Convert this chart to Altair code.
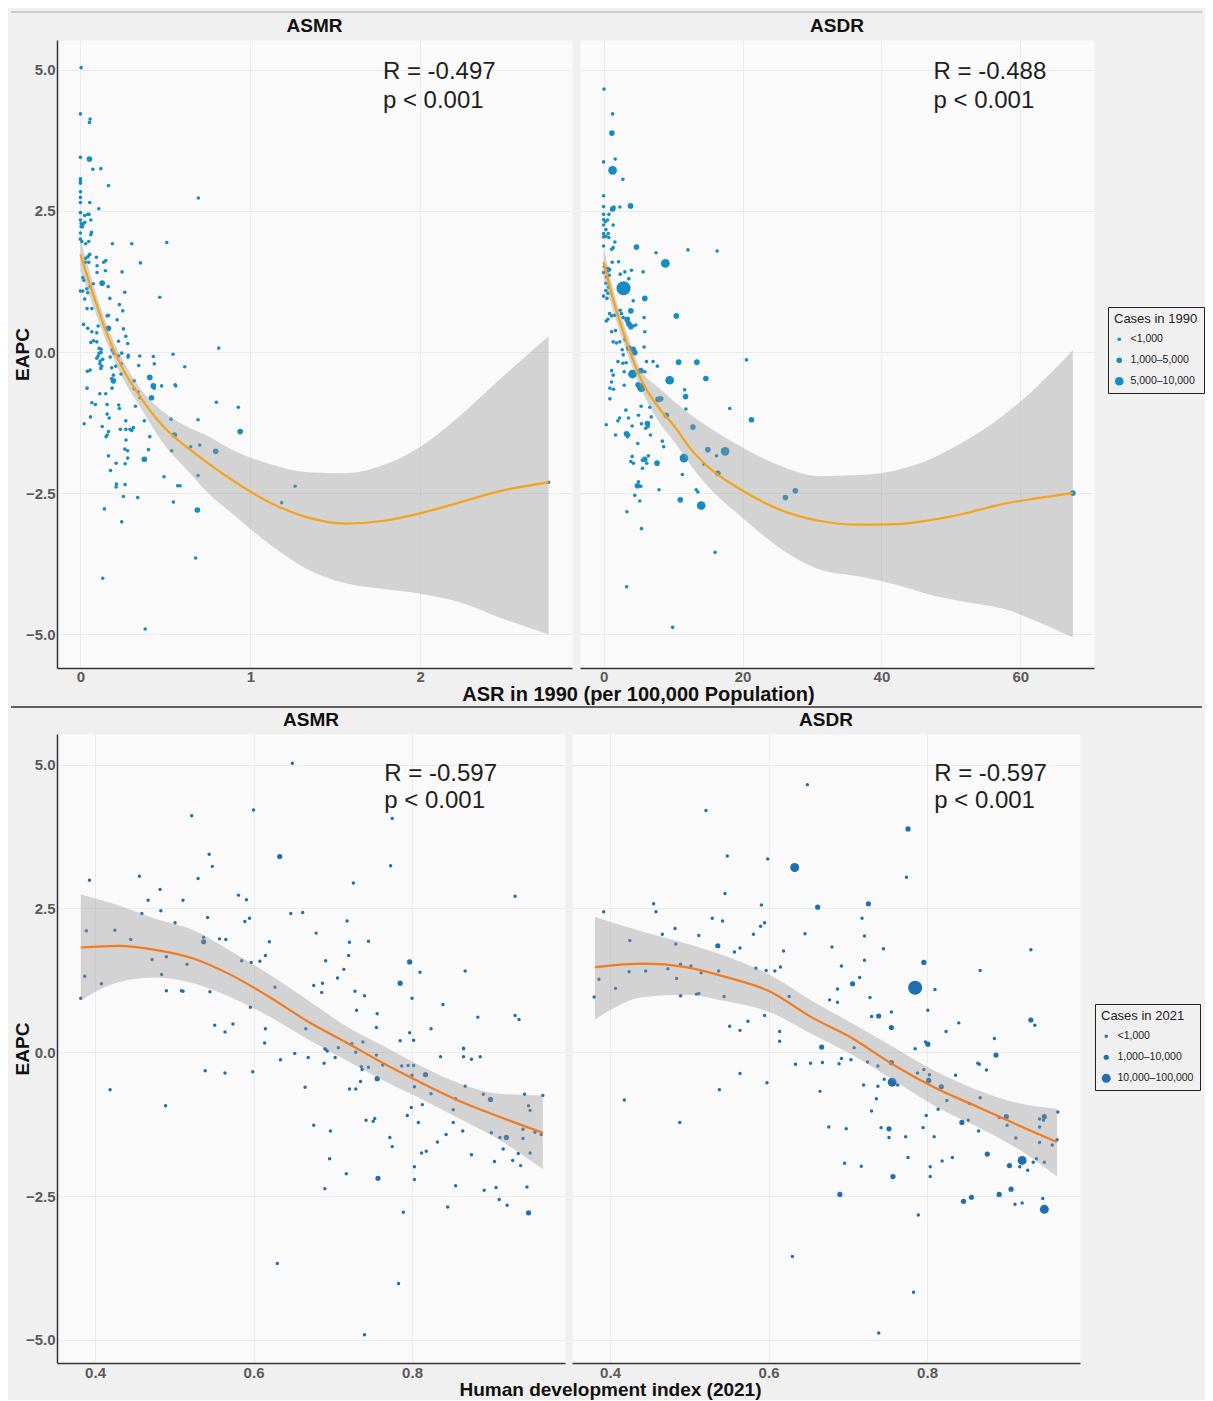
import altair as alt
import pandas as pd

FONT = "Liberation Sans"

# ---------------- data ----------------
CATS_1990 = ["<1,000", "1,000–5,000", "5,000–10,000", ">10,000"]
CATS_2021 = ["<1,000", "1,000–10,000", "10,000–100,000", ">100,000"]

# (ASR in 1990, EAPC, case-bin index)
ASMR_1990 = [
 (0.004,5.04,0),(0.0,4.22,0),(0.057,4.13,0),(0.053,4.07,0),(0.0,3.45,0),(0.053,3.42,1),
 (0.073,3.24,0),(0.12,3.25,0),(0.0,3.07,0),(0.0,3.03,0),(0.0,2.99,0),(0.165,2.95,0),
 (0.0,2.84,0),(0.0,2.74,0),(0.0,2.65,0),(0.055,2.65,0),(0.108,2.54,0),(0.694,2.73,0),
 (0.0,2.47,0),(0.025,2.42,0),(0.043,2.44,0),(0.051,2.44,0),(0.0,2.34,0),(0.061,2.34,0),
 (0.004,2.28,0),(0.016,2.27,0),(0.026,2.30,0),(0.004,2.22,0),(0.012,2.22,0),(0.0,2.11,0),
 (0.065,2.12,0),(0.061,2.08,0),(0.0,2.00,0),(0.008,1.96,0),(0.031,1.92,0),(0.049,1.96,0),
 (0.188,1.92,0),(0.302,1.92,0),(0.508,1.94,0),(0.055,1.73,0),(0.031,1.66,0),(0.045,1.69,0),
 (0.094,1.68,0),(0.029,1.59,0),(0.049,1.59,0),(0.098,1.53,0),(0.137,1.59,0),(0.149,1.62,0),
 (0.353,1.58,0),(0.098,1.41,0),(0.147,1.44,0),(0.245,1.42,0),(0.014,1.32,0),(0.020,1.27,0),
 (0.128,1.22,1),(0.076,1.21,0),(0.057,1.16,0),(0.0,1.08,0),(0.014,1.08,0),(0.037,1.12,0),
 (0.043,1.05,0),(0.163,1.16,0),(0.261,1.06,0),(0.467,0.97,0),(0.025,0.94,0),(0.173,0.95,0),
 (0.229,0.84,0),(0.039,0.77,0),(0.067,0.77,0),(0.249,0.73,0),
 (0.157,0.64,0),(0.165,0.65,0),(0.216,0.57,0),(0.018,0.49,0),(0.043,0.42,0),(0.067,0.36,0),
 (0.096,0.34,0),(0.104,0.46,0),(0.253,0.41,0),(0.165,0.42,1),(0.267,0.28,0),(0.061,0.17,0),
 (0.077,0.20,0),(0.096,0.18,0),(0.224,0.19,0),(0.278,0.15,0),(0.110,0.065,0),(0.122,0.05,0),
 (0.110,-0.02,0),(0.122,-0.01,0),(0.104,-0.07,0),(0.186,0.035,0),(0.198,-0.02,0),(0.243,-0.02,0),
 (0.096,-0.11,0),(0.116,-0.16,0),(0.131,-0.13,0),(0.175,-0.09,0),(0.224,-0.07,0),(0.280,-0.09,0),
 (0.282,-0.06,0),(0.349,-0.07,0),(0.429,-0.08,0),(0.545,-0.04,0),(0.114,-0.21,0),(0.125,-0.25,0),
 (0.120,-0.29,0),(0.184,-0.28,0),(0.208,-0.25,0),(0.240,-0.21,0),(0.343,-0.24,0),(0.435,-0.21,0),
 (0.614,-0.26,0),(0.041,-0.34,0),(0.057,-0.32,0),(0.194,-0.41,0),(0.184,-0.47,0),(0.194,-0.51,1),
 (0.239,-0.39,0),(0.316,-0.51,0),(0.408,-0.45,1),(0.429,-0.60,1),(0.433,-0.64,0),(0.478,-0.60,0),
 (0.561,-0.60,0),(0.039,-0.64,0),(0.186,-0.64,0),(0.316,-0.65,0),(0.339,-0.71,0),(0.351,-0.81,0),
 (0.418,-0.81,1),(0.114,-0.74,0),(0.149,-0.74,0),(0.067,-0.90,0),(0.088,-0.93,0),(0.157,-0.93,0),
 (0.225,-0.94,0),(0.229,-1.00,0),(0.324,-0.96,0),(0.059,-1.15,0),(0.157,-1.10,0),(0.169,-1.17,0),
 (0.376,-1.22,0),(0.533,-1.19,0),(0.692,-1.20,0),(0.022,-1.27,0),(0.128,-1.32,0),(0.267,-1.22,0),
 (0.267,-1.37,0),(0.292,-1.37,0),(0.312,-1.34,0),(0.302,-1.39,0),(0.235,-1.37,0),(0.165,-1.41,0),
 (0.157,-1.47,0),(0.151,-1.50,0),(0.268,-1.56,0),(0.408,-1.50,0),(0.553,-1.47,1),(0.649,-1.68,0),
 (0.702,-1.65,0),(0.261,-1.72,0),(0.278,-1.75,0),(0.400,-1.73,0),(0.537,-1.75,0),(0.165,-1.84,0),
 (0.278,-1.88,0),(0.263,-1.98,0),(0.210,-1.97,0),(0.376,-1.90,1),(0.177,-2.10,0),(0.492,-2.21,0),
 (0.692,-2.19,0),(0.212,-2.34,0),(0.210,-2.39,0),(0.263,-2.35,0),(0.572,-2.37,0),(0.586,-2.37,0),
 (0.253,-2.56,0),(0.337,-2.58,0),(0.547,-2.66,0),(0.688,-2.80,1),(0.141,-2.78,0),(0.243,-3.01,0),
 (0.678,-3.65,0),(0.814,0.07,0),(0.557,-0.58,0),(0.800,-0.89,0),(0.929,-0.98,0),(0.940,-1.41,1),
 (0.796,-1.76,1),(1.184,-2.67,0),(1.263,-2.38,0),(2.755,-2.31,0),(0.131,-4.01,0),(0.381,-4.91,0),
]

ASDR_1990 = [
 (0.05,4.66,0),(1.29,4.22,0),(1.19,3.88,1),(0.0,3.37,0),(1.67,3.42,0),(1.29,3.22,2),(2.77,3.06,0),
 (0.0,2.77,0),(0.0,2.58,0),(1.33,2.54,1),(1.15,2.52,0),(1.48,2.57,0),(2.34,2.57,0),(3.87,2.59,1),
 (0.76,2.44,0),(0.0,2.44,0),(0.0,2.35,0),(0.24,2.31,0),(0.57,2.34,0),(0.0,2.25,0),(1.38,2.25,0),
 (0.33,2.17,0),(0.0,2.10,0),(0.67,2.10,0),(0.33,2.05,0),(0.0,2.04,0),(0.76,2.03,0),(0.0,1.88,0),
 (1.62,1.95,0),(1.15,1.82,0),(1.38,1.85,0),(4.73,1.86,1),(7.55,1.76,0),(12.14,1.81,0),(16.34,1.79,0),
 (8.89,1.57,2),(1.24,1.59,0),(2.15,1.60,0),(0.1,1.51,0),(0.57,1.46,1),(0.86,1.46,0),(2.39,1.38,0),
 (3.06,1.42,0),(4.01,1.45,0),(5.69,1.42,0),(0.0,1.41,0),(0.43,1.33,0),(0.81,1.36,0),(2.87,1.13,3),
 (3.63,1.30,0),(0.33,1.22,0),(0.72,1.15,0),(0.33,1.09,0),(0.62,1.04,0),(0.0,0.99,0),(0.48,0.95,0),
 (4.26,0.91,0),(5.93,0.95,1),(2.39,0.74,0),(3.92,0.73,1),(0.86,0.68,0),(1.58,0.65,0),(1.15,0.64,0),
 (0.62,0.58,0),(5.83,0.61,0),(10.47,0.64,1),(3.4,0.58,1),
 (0.38,0.55,0),(2.58,0.68,0),(2.82,0.61,0),(3.30,0.55,0),(3.63,0.50,1),(3.92,0.45,1),(4.26,0.46,0),
 (4.63,0.48,0),(5.93,0.36,0),(1.15,0.36,0),(1.72,0.38,0),(1.38,0.18,0),(1.86,0.16,0),(2.34,0.18,0),
 (3.06,0.22,0),(3.63,0.07,1),(4.25,0.05,1),(4.49,-0.01,1),(2.68,0.04,0),(2.82,-0.05,0),(5.83,0.09,0),
 (2.06,-0.17,0),(2.77,-0.20,0),(3.25,-0.19,0),(6.17,-0.17,0),(7.12,-0.17,0),(7.74,-0.25,0),
 (1.15,-0.33,0),(1.38,-0.41,0),(2.96,-0.35,0),(4.16,-0.39,2),(5.35,-0.33,1),(5.93,-0.35,0),
 (4.97,-0.58,1),(5.45,-0.63,2),(9.51,-0.50,2),(10.8,-0.18,1),(13.43,-0.18,1),(14.72,-0.47,1),
 (1.15,-0.53,0),(0.91,-0.64,0),(1.43,-0.66,0),(2.96,-0.59,0),(0.91,-0.83,0),(0.38,-1.29,0),
 (11.66,-0.67,0),(11.8,-0.79,1),(7.84,-0.84,1),(8.22,-0.83,1),(6.65,-0.98,0),(6.86,-1.15,0),
 (9.03,-1.12,1),(5.4,-0.96,0),(3.2,-1.03,0),(3.58,-1.17,0),(5.02,-1.12,0),(11.85,-1.01,0),
 (18.16,-1.0,0),(2.06,-1.22,0),(2.3,-1.17,0),(4.11,-1.31,0),(5.45,-1.27,0),(6.31,-1.27,1),
 (6.07,-1.35,0),(6.41,-1.32,0),(12.86,-1.33,1),(3.3,-1.45,1),(3.44,-1.50,0),(3.63,-1.47,0),
 (1.72,-1.47,0),(6.74,-1.47,0),(4.92,-1.62,0),(8.46,-1.58,0),(8.65,-1.68,0),(11.57,-1.88,2),
 (15.01,-1.73,1),(16.25,-1.84,0),(17.49,-1.76,2),(4.11,-1.85,0),(3.92,-1.94,0),(4.30,-1.97,0),
 (5.59,-1.92,0),(5.92,-1.90,1),(6.21,-1.97,0),(6.45,-1.84,0),(7.69,-1.97,1),(5.59,-2.06,0),
 (14.43,-1.99,0),(16.44,-2.15,1),(11.33,-2.17,0),(5.02,-2.30,0),(4.88,-2.37,1),(5.35,-2.38,0),
 (13.33,-2.44,0),(13.57,-2.48,0),(7.98,-2.44,0),(4.49,-2.54,0),(5.21,-2.64,0),(11.04,-2.62,1),
 (14.05,-2.72,2),(3.35,-2.83,0),(5.45,-3.13,0),(16.06,-3.55,0),
 (20.57,-0.14,0),(21.28,-1.2,1),(26.18,-2.58,1),(27.6,-2.46,1),(67.55,-2.5,1),(9.93,-4.88,0),(3.31,-4.16,0),
]

# (HDI 2021, EAPC, case-bin index)
ASMR_HDI = [
 (0.649,5.02,0),(0.600,4.21,0),(0.522,4.11,0),(0.775,4.06,0),(0.633,3.40,1),(0.544,3.44,0),
 (0.548,3.23,0),(0.773,3.24,0),(0.393,2.99,0),(0.456,3.06,0),(0.530,3.02,0),(0.726,2.94,0),
 (0.482,2.83,0),(0.467,2.64,0),(0.511,2.64,0),(0.581,2.73,0),(0.591,2.65,0),(0.930,2.71,0),
 (0.459,2.41,0),(0.483,2.46,0),(0.647,2.41,0),(0.662,2.43,0),(0.501,2.25,0),(0.542,2.34,0),
 (0.589,2.27,0),(0.595,2.33,0),(0.718,2.28,0),(0.389,2.11,0),(0.425,2.12,0),(0.445,1.96,0),
 (0.537,2.00,0),(0.537,1.92,1),(0.557,1.97,0),(0.565,1.96,0),(0.620,1.92,0),(0.679,2.07,0),
 (0.721,1.91,0),(0.745,1.93,0),(0.472,1.61,0),(0.490,1.66,0),(0.516,1.53,0),(0.585,1.59,0),
 (0.597,1.56,0),(0.608,1.58,0),(0.615,1.68,0),(0.691,1.59,0),(0.720,1.68,0),(0.714,1.44,0),
 (0.797,1.57,1),(0.810,1.39,0),(0.867,1.41,0),(0.387,1.32,0),(0.408,1.19,0),(0.484,1.35,0),
 (0.490,1.07,0),(0.509,1.07,0),(0.511,1.06,0),(0.545,1.05,0),(0.627,1.13,0),(0.676,1.16,0),
 (0.687,1.20,0),(0.686,1.04,0),(0.706,1.29,0),(0.728,1.06,0),(0.740,0.98,0),(0.785,1.20,1),
 (0.800,0.94,0),(0.839,0.83,0),(0.382,0.94,0),(0.596,0.78,0),(0.730,0.73,0),(0.756,0.67,0),
 (0.883,0.61,0),(0.930,0.64,0),(0.935,0.57,0),(0.551,0.47,0),(0.564,0.35,0),(0.574,0.49,0),
 (0.615,0.41,0),(0.614,0.16,0),(0.666,0.41,0),(0.755,0.43,0),(0.785,0.20,0),(0.797,0.34,0),
 (0.802,0.21,0),(0.824,0.41,0),(0.738,0.18,0),(0.865,0.07,0),(0.690,0.06,0),(0.707,0.08,0),
 (0.634,-0.13,0),(0.652,-0.02,0),(0.669,-0.09,0),(0.689,-0.19,0),(0.691,0.05,0),(0.693,0.02,0),
 (0.703,-0.09,0),(0.724,0.15,0),(0.729,0.00,0),(0.736,-0.25,0),(0.737,-0.30,0),(0.745,-0.26,0),
 (0.755,-0.05,0),(0.763,-0.22,0),(0.787,-0.24,0),(0.795,-0.23,0),(0.802,-0.23,0),(0.800,-0.40,0),
 (0.817,-0.39,1),(0.836,-0.08,0),(0.865,0.06,0),(0.865,-0.08,0),(0.875,-0.12,0),(0.886,-0.08,0),
 (0.419,-0.65,0),(0.489,-0.93,0),(0.539,-0.32,0),(0.564,-0.36,0),(0.599,-0.34,0),(0.665,-0.61,0),
 (0.721,-0.64,0),(0.729,-0.64,0),(0.735,-0.51,0),(0.756,-0.46,1),(0.803,-0.60,0),(0.824,-0.72,0),
 (0.867,-0.59,0),(0.890,-0.73,0),(0.899,-0.82,1),(0.942,-0.73,0),(0.965,-0.75,0),(0.855,-0.81,0),
 (0.852,-1.00,0),(0.799,-0.96,0),(0.813,-0.91,0),(0.947,-0.93,0),(0.949,-1.01,0),(0.794,-1.10,0),
 (0.808,-1.22,0),(0.742,-1.18,0),(0.751,-1.20,0),(0.753,-1.15,0),(0.676,-1.27,0),(0.697,-1.37,0),
 (0.852,-1.22,0),(0.864,-1.37,0),(0.940,-1.34,0),(0.900,-1.40,0),(0.955,-1.39,0),(0.963,-1.43,0),
 (0.843,-1.43,0),(0.772,-1.48,0),(0.775,-1.64,0),(0.832,-1.56,0),(0.911,-1.48,0),(0.919,-1.48,1),
 (0.940,-1.50,0),(0.915,-1.68,0),(0.812,-1.75,0),(0.818,-1.72,0),(0.934,-1.76,0),(0.949,-1.75,0),
 (0.875,-1.78,0),(0.696,-1.85,0),(0.803,-1.99,0),(0.904,-1.90,0),(0.927,-1.88,0),(0.937,-1.97,0),
 (0.717,-2.11,0),(0.757,-2.19,1),(0.803,-2.21,0),(0.690,-2.37,0),(0.855,-2.32,0),(0.891,-2.40,0),
 (0.906,-2.35,0),(0.945,-2.34,0),(0.910,-2.56,0),(0.920,-2.66,0),(0.845,-2.69,0),(0.789,-2.78,0),
 (0.947,-2.79,1),(0.630,-3.67,0),(0.783,-4.02,0),(0.740,-4.91,0),
]

ASDR_HDI = [
 (0.649,4.65,0),(0.521,4.20,0),(0.776,3.88,1),(0.548,3.41,0),(0.599,3.36,0),(0.633,3.21,2),
 (0.774,3.04,0),(0.545,2.76,0),(0.455,2.58,0),(0.458,2.44,0),(0.392,2.44,0),(0.591,2.56,0),
 (0.662,2.52,1),(0.726,2.58,1),(0.529,2.33,0),(0.542,2.28,0),(0.590,2.19,0),(0.595,2.25,0),
 (0.718,2.33,0),(0.482,2.15,0),(0.466,2.05,0),(0.512,2.03,0),(0.581,2.05,0),(0.646,2.06,0),
 (0.721,2.02,0),(0.425,1.94,0),(0.483,1.88,0),(0.536,1.85,1),(0.557,1.74,0),(0.564,1.81,0),
 (0.680,1.83,0),(0.619,1.76,0),(0.745,1.80,0),(0.721,1.60,0),(0.796,1.56,1),(0.867,1.42,0),
 (0.931,1.78,0),(0.386,1.27,0),(0.407,1.11,0),(0.380,0.96,0),(0.424,1.40,0),(0.445,1.41,0),
 (0.473,1.45,0),(0.484,1.28,0),(0.489,1.53,0),(0.502,1.50,0),(0.515,1.38,0),(0.489,0.98,0),
 (0.509,1.01,0),(0.512,1.02,0),(0.544,0.97,0),(0.537,1.41,0),(0.584,1.46,0),(0.597,1.42,0),
 (0.608,1.41,0),(0.615,1.48,0),(0.626,0.97,0),(0.692,1.50,0),(0.706,1.19,1),(0.715,1.30,0),
 (0.687,1.10,0),(0.677,0.91,0),(0.687,0.87,0),(0.728,0.95,0),(0.785,1.12,3),(0.810,1.09,0),
 (0.801,0.73,0),(0.730,0.62,0),(0.739,0.63,1),(0.755,0.70,0),(0.755,0.43,1),(0.824,0.36,0),
 (0.840,0.51,0),(0.885,0.24,0),(0.931,0.56,1),(0.936,0.47,0),(0.595,0.64,0),(0.551,0.45,0),
 (0.564,0.38,0),(0.574,0.54,0),(0.614,0.36,0),(0.614,0.19,0),(0.667,0.09,1),(0.708,0.08,0),
 (0.798,0.18,0),(0.801,0.14,1),(0.785,0.06,0),
 (0.887,-0.05,1),(0.634,-0.21,0),(0.653,-0.19,0),(0.668,-0.18,0),(0.689,-0.20,0),(0.692,-0.11,0),
 (0.704,-0.13,0),(0.725,-0.17,0),(0.738,-0.24,0),(0.755,-0.18,1),(0.564,-0.37,0),(0.598,-0.53,0),
 (0.538,-0.65,0),(0.418,-0.83,0),(0.488,-1.22,0),(0.665,-0.68,0),(0.720,-0.57,0),(0.738,-0.59,0),
 (0.746,-0.47,0),(0.756,-0.52,2),(0.763,-0.57,0),(0.736,-0.81,0),(0.730,-1.02,0),(0.788,-0.36,0),
 (0.796,-0.30,0),(0.803,-0.39,0),(0.802,-0.49,1),(0.836,-0.40,0),(0.864,-0.19,0),(0.866,-0.21,0),
 (0.875,-0.31,0),(0.799,-1.10,0),(0.814,-0.99,0),(0.818,-0.60,1),(0.825,-0.84,0),(0.854,-0.89,0),
 (0.867,-0.79,0),(0.676,-1.30,0),(0.698,-1.33,0),(0.742,-1.31,0),(0.752,-1.33,1),(0.752,-1.48,0),
 (0.773,-1.47,0),(0.795,-1.31,0),(0.809,-1.47,0),(0.844,-1.22,1),(0.852,-1.18,0),(0.865,-1.37,0),
 (0.891,-1.13,0),(0.900,-1.12,1),(0.901,-1.27,0),(0.912,-1.49,0),(0.942,-1.16,0),(0.948,-1.12,1),
 (0.942,-1.30,0),(0.947,-1.18,0),(0.965,-1.04,0),(0.942,-1.57,0),(0.958,-1.61,0),(0.964,-1.52,0),
 (0.948,-1.91,0),(0.938,-1.85,0),(0.934,-1.91,0),(0.920,-1.88,2),(0.904,-1.97,1),(0.917,-1.99,0),
 (0.927,-2.05,0),(0.876,-1.77,1),(0.776,-1.83,0),(0.804,-1.99,0),(0.819,-1.89,0),(0.832,-1.83,0),
 (0.696,-1.93,0),(0.717,-1.98,0),(0.804,-2.16,0),(0.757,-2.16,1),(0.690,-2.47,1),(0.906,-2.38,1),
 (0.891,-2.47,1),(0.856,-2.52,1),(0.846,-2.59,1),(0.946,-2.54,0),(0.948,-2.73,2),(0.911,-2.64,0),
 (0.920,-2.62,0),(0.789,-2.83,0),(0.630,-3.55,0),(0.783,-4.17,0),(0.739,-4.88,0),
]

# smooth fits (x, fitted, lower 95% CI, upper 95% CI)
ASMR_1990_FX = [0, 0.086, 0.155, 0.243, 0.351, 0.488, 0.645, 0.724, 0.884, 1.109, 1.335, 1.56, 1.786, 2.01, 2.237, 2.462, 2.755]
ASMR_1990_FY = [1.73, 0.92, 0.33, -0.26, -0.79, -1.32, -1.73, -1.91, -2.25, -2.66, -2.93, -3.04, -2.99, -2.85, -2.66, -2.47, -2.31]
ASMR_1990_LO = [1.45, 0.72, 0.17, -0.43, -0.97, -1.62, -2.15, -2.42, -2.84, -3.4, -3.85, -4.1, -4.2, -4.29, -4.44, -4.7, -5.0]
ASMR_1990_HI = [2.0, 1.1, 0.48, -0.1, -0.64, -1.06, -1.35, -1.45, -1.72, -1.98, -2.13, -2.15, -2.0, -1.66, -1.12, -0.5, 0.28]

ASDR_1990_FX = [0, 1.4, 3.06, 5.45, 7.84, 10.22, 12.62, 15.0, 19.8, 25.1, 31.0, 36.9, 42.0, 47.0, 51.7, 57.6, 62.5, 67.55]
ASDR_1990_FY = [1.6, 0.92, 0.27, -0.5, -0.97, -1.32, -1.73, -2.03, -2.44, -2.78, -2.99, -3.06, -3.05, -2.98, -2.87, -2.69, -2.59, -2.5]
ASDR_1990_LO = [1.33, 0.72, 0.1, -0.67, -1.22, -1.6, -2.02, -2.38, -2.92, -3.45, -3.85, -3.98, -4.12, -4.3, -4.42, -4.55, -4.78, -5.06]
ASDR_1990_HI = [1.85, 1.1, 0.45, -0.33, -0.62, -0.88, -1.12, -1.32, -1.68, -2.0, -2.2, -2.18, -2.1, -1.9, -1.6, -1.12, -0.6, 0.03]

ASMR_HDI_FX = [0.382, 0.43, 0.476, 0.524, 0.572, 0.62, 0.669, 0.717, 0.765, 0.813, 0.862, 0.91, 0.965]
ASMR_HDI_FY = [1.82, 1.85, 1.78, 1.63, 1.34, 0.96, 0.53, 0.17, -0.2, -0.54, -0.86, -1.12, -1.40]
ASMR_HDI_LO = [0.90, 1.22, 1.30, 1.2, 0.95, 0.62, 0.22, -0.14, -0.5, -0.82, -1.17, -1.52, -2.03]
ASMR_HDI_HI = [2.74, 2.55, 2.32, 2.12, 1.75, 1.35, 0.9, 0.45, 0.1, -0.25, -0.55, -0.72, -0.75]

ASDR_HDI_FX = [0.381, 0.443, 0.496, 0.548, 0.601, 0.654, 0.706, 0.759, 0.812, 0.864, 0.917, 0.964]
ASDR_HDI_FY = [1.48, 1.54, 1.48, 1.30, 1.06, 0.61, 0.24, -0.23, -0.63, -0.95, -1.28, -1.56]
ASDR_HDI_LO = [0.57, 0.96, 1.0, 0.88, 0.7, 0.32, -0.05, -0.5, -0.95, -1.30, -1.70, -2.16]
ASDR_HDI_HI = [2.35, 2.09, 1.89, 1.66, 1.35, 0.9, 0.5, 0.08, -0.34, -0.66, -0.89, -0.98]

# correlation labels: text, x position, y positions (data units)
STATS = {
    "asmr_1990": ("R = -0.497", 1.78, [4.83, 4.33]),
    "asdr_1990": ("R = -0.488", 47.5, [4.83, 4.33]),
    "asmr_hdi": ("R = -0.597", 0.765, [4.72, 4.25]),
    "asdr_hdi": ("R = -0.597", 0.809, [4.72, 4.25]),
}
P_TEXT = "p < 0.001"

Y_TICKS = [-5.0, -2.5, 0.0, 2.5, 5.0]

# ---------------- styling ----------------
TOP_PT = "#168cc2"
BOT_PT = "#1f6eb0"
TOP_LINE = "#f4a31a"
BOT_LINE = "#f07b22"
SIZES_1990 = [13, 32, 76, 200]
SIZES_2021 = [12, 27, 80, 200]

TOP_H = 628
BOT_H = 629


def one_row(values):
    return alt.Data(values=[values])


def panel(points, cats, sizes, fx, fy, flo, fhi, xdom, ydom, xticks, xfmt, title,
          stat, show_y, legend, pt_color, line_color, w, h, label_pad, title_offset=4, extras=()):
    df = pd.DataFrame(points, columns=["x", "y", "c"])
    df["cases"] = [cats[int(i)] for i in df["c"]]
    fit = pd.DataFrame({"x": fx, "fit": fy, "lo": flo, "hi": fhi})
    rtxt, ax, ays = stat
    ann = pd.DataFrame({"x": [ax, ax], "y": ays, "t": [rtxt, P_TEXT]})

    xs = alt.Scale(domain=xdom, nice=False, zero=False)
    ys = alt.Scale(domain=ydom, nice=False, zero=False)
    xaxis = alt.Axis(values=xticks, format=xfmt, title=None, grid=True, ticks=False,
                     labelPadding=label_pad, labelFlush=False)
    if show_y:
        yaxis = alt.Axis(values=Y_TICKS, format=".1f", title="EAPC", grid=True, ticks=False,
                         labelPadding=2, titleX=-25, titleAngle=270, titleBaseline="bottom")
    else:
        yaxis = alt.Axis(values=Y_TICKS, labels=False, domain=False, ticks=False,
                         title=None, grid=True)

    def X(f):
        return alt.X(f, type="quantitative", scale=xs, axis=xaxis)

    def Y(f):
        return alt.Y(f, type="quantitative", scale=ys, axis=yaxis)

    pts = alt.Chart(df).mark_circle(color=pt_color, opacity=1).encode(
        x=X("x"), y=Y("y"),
        size=alt.Size("cases:N", scale=alt.Scale(type="ordinal", domain=cats, range=sizes),
                      legend=legend),
    )
    band = alt.Chart(fit).mark_area(color="#999999", opacity=0.4, interpolate="monotone").encode(
        x=X("x"), y=Y("lo"), y2="hi"
    )
    line = alt.Chart(fit).mark_line(color=line_color, strokeWidth=2.2, interpolate="monotone").encode(
        x=X("x"), y=Y("fit")
    )
    txt = alt.Chart(ann).mark_text(align="left", baseline="alphabetic", fontSize=24,
                                   font=FONT, color="#1e1e1e").encode(
        x=X("x"), y=Y("y"), text="t:N"
    )
    layers = [pts, band, line, txt] + list(extras)
    return alt.layer(*layers).properties(
        width=w, height=h,
        title=alt.TitleParams(title, fontSize=19, fontWeight="bold", anchor="middle",
                              offset=title_offset, color="#111111", font=FONT),
    )


def hrule(y, x1, x2, color, width, opacity=1):
    return alt.Chart(one_row({"k": 0})).mark_rule(color=color, strokeWidth=width,
                                                  strokeOpacity=opacity).encode(
        x=alt.value(x1), x2=alt.value(x2), y=alt.value(y))


def vrule(x, y1, y2, color, width, opacity=1):
    return alt.Chart(one_row({"k": 0})).mark_rule(color=color, strokeWidth=width,
                                                  strokeOpacity=opacity).encode(
        x=alt.value(x), y=alt.value(y1), y2=alt.value(y2))


def legend_for(title, cats, color, lx, ly):
    return alt.Legend(title=title, values=cats[:3], orient="none", legendX=lx, legendY=ly,
                      symbolFillColor=color, symbolStrokeWidth=0, symbolType="circle",
                      symbolOpacity=1)


TOP_Y = [-5.6, 5.53]
BOT_Y = [-5.40, 5.53]

# TL: thin frame line above the top row; its title offset compensates for the line
tl = panel(ASMR_1990, CATS_1990, SIZES_1990, ASMR_1990_FX, ASMR_1990_FY, ASMR_1990_LO, ASMR_1990_HI,
           [-0.138, 2.893], TOP_Y, [0, 1, 2], "d", "ASMR", STATS["asmr_1990"], True, None,
           TOP_PT, TOP_LINE, 515, TOP_H, 1, title_offset=-24.5,
           extras=[vrule(-46, 100, 101, "#f0f0f0", 1, 0),
                   hrule(-28, -46, 1145, "#a6a6a6", 1)])
tr = panel(ASDR_1990, CATS_1990, SIZES_1990, ASDR_1990_FX, ASDR_1990_FY, ASDR_1990_LO, ASDR_1990_HI,
           [-3.4, 70.6], TOP_Y, [0, 20, 40, 60], "d", "ASDR", STATS["asdr_1990"], False,
           legend_for("Cases in 1990", CATS_1990, TOP_PT, 528, 267),
           TOP_PT, TOP_LINE, 514, TOP_H, 1)

bl = panel(ASMR_HDI, CATS_2021, SIZES_2021, ASMR_HDI_FX, ASMR_HDI_FY, ASMR_HDI_LO, ASMR_HDI_HI,
           [0.352, 0.993], BOT_Y, [0.4, 0.6, 0.8], ".1f", "ASMR", STATS["asmr_hdi"], True, None,
           BOT_PT, BOT_LINE, 508, BOT_H, 2, title_offset=-23.8,
           extras=[vrule(-46, 100, 101, "#f0f0f0", 1, 0),
                   hrule(-27, -46, 1145, "#333333", 1.6)])
br = panel(ASDR_HDI, CATS_2021, SIZES_2021, ASDR_HDI_FX, ASDR_HDI_FY, ASDR_HDI_LO, ASDR_HDI_HI,
           [0.352, 0.993], BOT_Y, [0.4, 0.6, 0.8], ".1f", "ASDR", STATS["asdr_hdi"], False,
           legend_for("Cases in 2021", CATS_2021, BOT_PT, 523, 270),
           BOT_PT, BOT_LINE, 508, BOT_H, 2)

top = alt.hconcat(
    tl, tr, spacing=8, bounds="flush",
    title=alt.TitleParams("ASR in 1990 (per 100,000 Population)", orient="bottom", anchor="middle",
                          offset=0, fontSize=20, fontWeight="bold", color="#111111", font=FONT, dx=31),
).resolve_scale(size="independent").resolve_legend(size="independent")

bottom = alt.hconcat(
    bl, br, spacing=7, bounds="flush",
    title=alt.TitleParams("Human development index (2021)", orient="bottom", anchor="middle",
                          offset=0, fontSize=19, fontWeight="bold", color="#111111", font=FONT, dx=4),
).resolve_scale(size="independent").resolve_legend(size="independent")

chart = alt.vconcat(top, bottom, spacing=0).resolve_scale(size="independent").resolve_legend(
    size="independent"
).properties(
    background="#f0f0f0",
    padding={"left": 1, "top": 3, "right": 0, "bottom": 0},
).configure(
    font=FONT
).configure_view(
    fill="#fafafa", stroke="transparent"
).configure_axis(
    labelFont=FONT, titleFont=FONT, labelFontSize=15, labelFontWeight="bold",
    labelColor="#5a5a5a", gridColor="#ebebeb", gridWidth=1, domainColor="#333333",
    domainWidth=1.5, titleFontSize=19, titleFontWeight="bold", titleColor="#111111",
).configure_legend(
    titleFont=FONT, labelFont=FONT, titleFontSize=13, titleFontWeight="normal",
    labelFontSize=10.5, titleColor="#222222", labelColor="#222222", strokeColor="#222222",
    fillColor="#f0f0f0", padding=6, rowPadding=10, titlePadding=8, labelOffset=6,
)

chart.save("out.html", embed_options={"renderer": "svg", "actions": False})
